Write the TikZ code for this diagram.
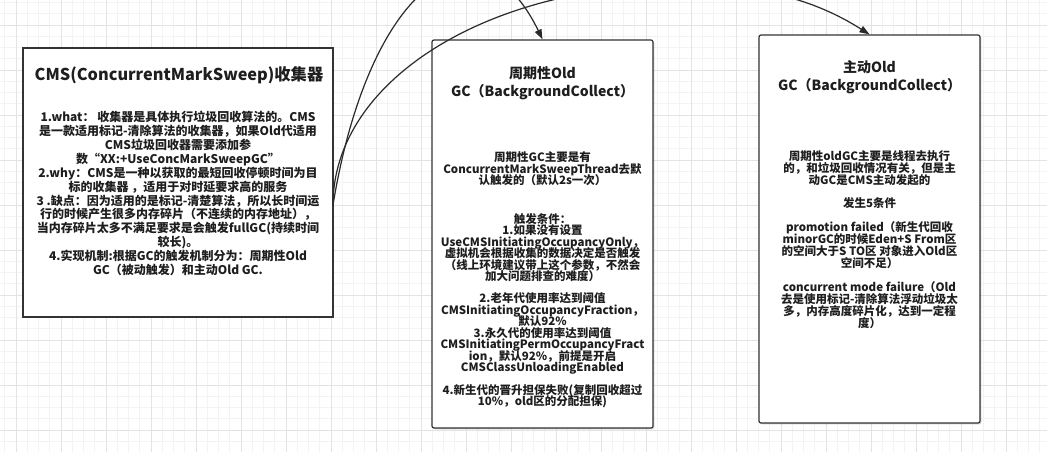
\documentclass[tikz,border=0pt]{standalone}
\usepackage{fontspec}
\setmainfont{Noto Sans CJK SC}
\usetikzlibrary{arrows.meta,shadows}
\definecolor{griglia}{HTML}{F3F3F3}
\definecolor{grigliaforte}{HTML}{E3E3E3}
\definecolor{bordo}{HTML}{333333}
\definecolor{testo}{HTML}{1E1E1E}
\definecolor{linea}{HTML}{2A2A2A}
\newcommand{\righestrette}{\lineskiplimit=-10pt\relax}
\begin{document}
\begin{tikzpicture}[x=1pt,y=-1pt,
    riquadro/.style={draw=bordo, line width=1.2pt, fill=white, inner sep=0pt},
    ombra/.style={drop shadow={opacity=0.35, shadow xshift=1.3pt, shadow yshift=-1.3pt}},
    titolo/.style={align=center, text=testo, font=\bfseries\fontsize{14}{18}\selectfont},
    corpo/.style={align=center, text=testo, font=\bfseries\fontsize{11.5}{11.5}\selectfont\righestrette},
    freccia/.style={-{Triangle[length=10pt,width=7pt]}, draw=linea, line width=1.2pt}]

        % Area e griglia di sfondo
        \useasboundingbox (0,0) rectangle (1047,452);
        \fill[white] (0,0) rectangle (1047,452);
        \foreach \i in {0,...,92}
            \draw[griglia, line width=0.8pt] ({4.75+11.25*\i},0) -- ++(0,452);
        \foreach \i in {0,...,40}
            \draw[griglia, line width=0.8pt] (0,{2.5+11.25*\i}) -- ++(1047,0);
        \foreach \i in {0,...,23}
            \draw[grigliaforte, line width=0.9pt] ({16+45*\i},0) -- ++(0,452);
        \foreach \i in {0,...,9}
            \draw[grigliaforte, line width=0.9pt] (0,{25+45*\i}) -- ++(1047,0);

        % Riquadri
        \node[riquadro, minimum width=310pt, minimum height=269pt] (cms) at (178,182.5) {};
        \node[riquadro, ombra, rounded corners=2pt, minimum width=221pt, minimum height=388pt] (periodico) at (542.5,234) {};
        \node[riquadro, ombra, rounded corners=2pt, minimum width=221pt, minimum height=388pt] (attivo) at (869.5,229) {};

        % Collettore CMS
        \node[titolo, font=\bfseries\fontsize{16.3}{20}\selectfont] (cmsTitolo) at (179,75) {CMS(ConcurrentMarkSweep)收集器};
        \node[corpo, font=\bfseries\fontsize{12}{13.9}\selectfont\righestrette] (cmsTesto) at (178,193.5) {%
            1.what： 收集器是具体执行垃圾回收算法的。CMS\\
            是一款适用标记-清除算法的收集器，如果Old代适用\\
            CMS垃圾回收器需要添加参\\
            数“XX:+UseConcMarkSweepGC”\\
            2.why：CMS是一种以获取的最短回收停顿时间为目\\
            标的收集器 ，适用于对时延要求高的服务\\
            3 .缺点：因为适用的是标记-清楚算法，所以长时间运\\
            行的时候产生很多内存碎片（不连续的内存地址），\\
            当内存碎片太多不满足要求是会触发fullGC(持续时间\\
            较长)。\\
            4.实现机制:根据GC的触发机制分为：周期性Old\\
            GC（被动触发）和主动Old GC.};

        % Old GC periodico
        \node[titolo] (periodicoTitolo) at (542.5,83) {周期性Old\\GC（BackgroundCollect）};
        \node[corpo] (periodicoTesto) at (542.5,280) {%
            周期性GC主要是有\\
            ConcurrentMarkSweepThread去默\\
            认触发的（默认2s一次）\\[27pt]
            触发条件：\\
            1.如果没有设置\\
            UseCMSInitiatingOccupancyOnly，\\
            虚拟机会根据收集的数据决定是否触发\\
            （线上环境建议带上这个参数，不然会\\
            加大问题排查的难度）\\[10.5pt]
            2.老年代使用率达到阈值\\
            CMSInitiatingOccupancyFraction，\\
            默认92\%\\
            3.永久代的使用率达到阈值\\
            CMSInitiatingPermOccupancyFract\\
            ion，默认92\%，前提是开启\\
            CMSClassUnloadingEnabled\\[11pt]
            4.新生代的晋升担保失败(复制回收超过\\
            10\%，old区的分配担保)};

        % Old GC attivo
        \node[titolo] (attivoTitolo) at (869.5,77.5) {主动Old\\GC（BackgroundCollect）};
        \node[corpo, font=\bfseries\fontsize{11.5}{11.8}\selectfont\righestrette] (attivoTesto) at (869.5,239.5) {%
            周期性oldGC主要是线程去执行\\
            的，和垃圾回收情况有关，但是主\\
            动GC是CMS主动发起的\\[12pt]
            发生5条件\\[12pt]
            promotion failed（新生代回收\\
            minorGC的时候Eden+S From区\\
            的空间大于S TO区 对象进入Old区\\
            空间不足）\\[13pt]
            concurrent mode failure（Old\\
            去是使用标记-清除算法浮动垃圾太\\
            多，内存高度碎片化，达到一定程\\
            度）};

        % Collegamenti
        \coordinate (partenza) at (333,205);
        \coordinate (apice) at (680,-15);
        \draw[freccia] (partenza) .. controls (370,-20) and (480,-90) .. (periodico.north);
        \draw[freccia] (partenza) .. controls (333,80) and (489,-15) .. (apice)
                                  .. controls (760,-15) and (813.5,-1) .. (attivo.north);

    \end{tikzpicture}
\end{document}
